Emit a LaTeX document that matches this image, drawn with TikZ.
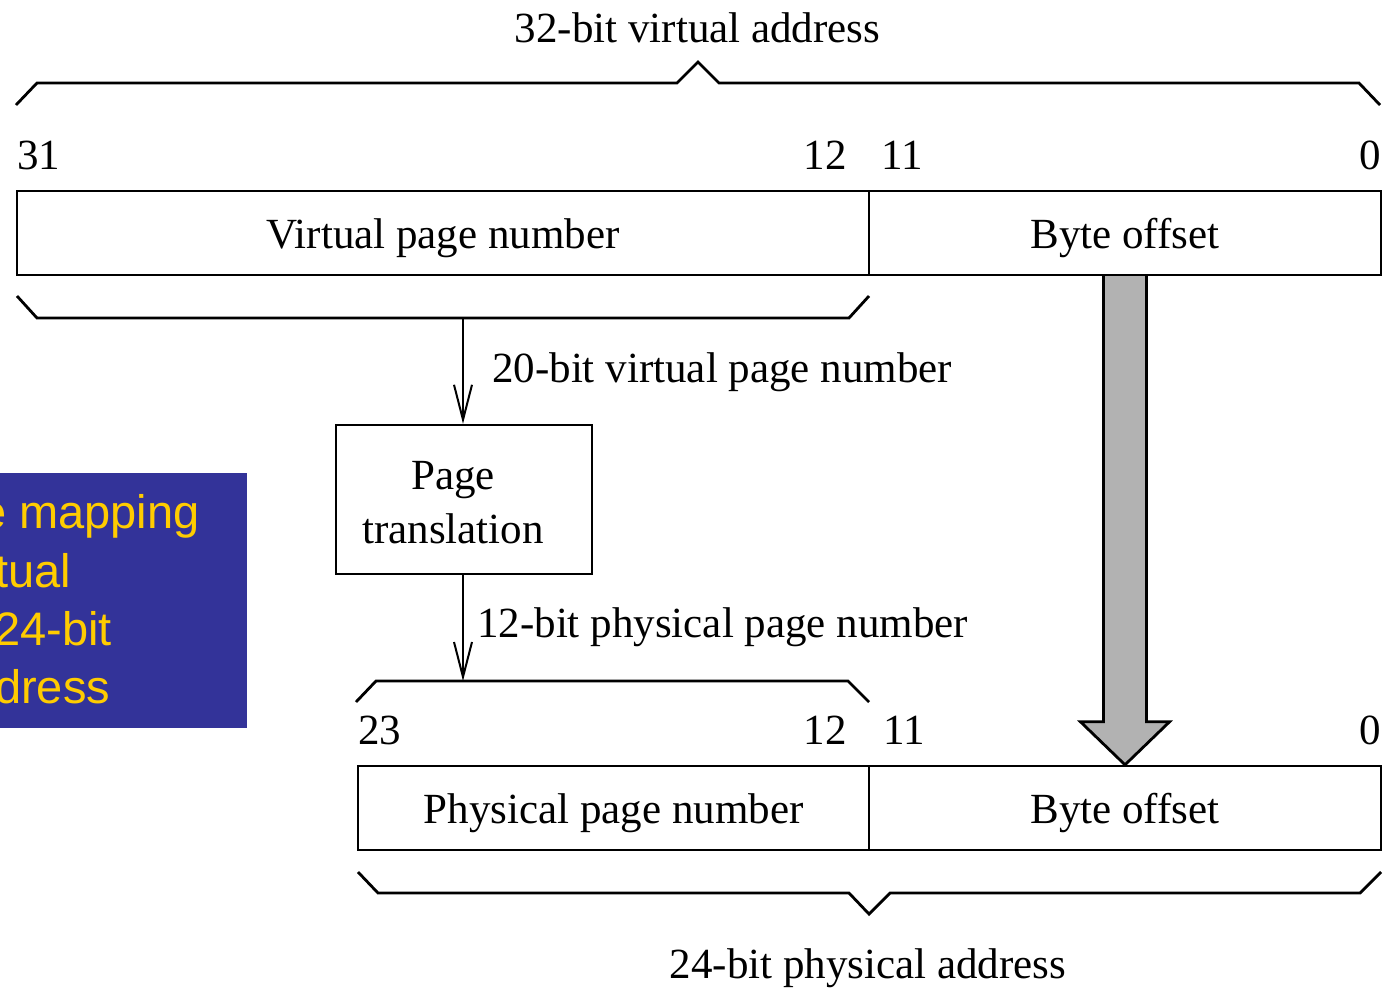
\documentclass[tikz,border=0pt]{standalone}
\usepackage{fontspec}
\setmainfont{Liberation Serif}
\newfontfamily\panelfont{Liberation Sans}
\usetikzlibrary{arrows.meta,calc}
\definecolor{panelblue}{RGB}{51,51,153}
\definecolor{panelyellow}{RGB}{255,204,0}
\definecolor{fatgray}{RGB}{178,178,178}

\begin{document}
\begin{tikzpicture}[x=1pt,y=-1pt,
  lbl/.style={inner sep=0pt,font=\fontsize{43}{50}\selectfont},
  field/.style={draw,line width=2.4pt,inner sep=0pt,minimum height=84pt,
    text height=30pt,text depth=0pt,font=\fontsize{43}{50}\selectfont},
  brace/.style={line width=2.8pt,line join=miter},
  link/.style={line width=2pt,-{Straight Barb[length=35pt,width=18pt,line width=2pt]}},
  fatarrow/.style={draw,fill=fatgray,line width=2.8pt,line join=miter},
  paneltext/.style={inner sep=0pt,text=panelyellow,font=\panelfont\fontsize{47}{58}\selectfont}]

\useasboundingbox (0,0) rectangle (1383,989);

% side panel
\node[fill=panelblue,inner sep=0pt,minimum width=247pt,minimum height=255pt,anchor=north west] (panel) at (0,473) {};
\node[paneltext,anchor=base west] (pl1) at (-20,528) {e mapping};
\node[paneltext,anchor=base west] (pl2) at (-5,587) {tual};
\node[paneltext,anchor=base west] (pl3) at (-6,645) {24-bit};
\node[paneltext,anchor=base west] (pl4) at (-5,703) {dress};

% virtual address
\node[lbl,anchor=base] (vtitle) at (697.5,42) {32-bit virtual address};
\draw[brace] (16,105) -- (37,83) -- (677,83) -- (698,62) -- (719,83) -- (1359,83) -- (1380,105);
\node[lbl,anchor=base west] (v31) at (17,169) {31};
\node[lbl,anchor=base east] (v12) at (847,169) {12};
\node[lbl,anchor=base west] (v11) at (881,169) {11};
\node[lbl,anchor=base east] (v0) at (1381,169) {0};
\node[field,minimum width=852pt] (vpn) at (443,233) {Virtual page number};
\node[field,minimum width=512pt] (vboff) at (1125,233) {Byte offset};
\draw[brace] (17,296) -- (37,318) -- (849,318) -- (869,296);
\coordinate (vbr) at (463,318);

% page translation
\node[draw,line width=2.4pt,inner sep=0pt,minimum width=256pt,minimum height=149pt] (pt) at (464,499.5) {};
\node[lbl,anchor=base] (ptl1) at (453,489) {Page};
\node[lbl,anchor=base] (ptl2) at (453,543) {translation};
\draw[link] (vbr) -- (vbr |- pt.north);
\node[lbl,anchor=base west] (vpnlbl) at (492,382) {20-bit virtual page number};

% physical address
\draw[brace] (356,702) -- (376,681) -- (848,681) -- (869,702);
\coordinate (pbr) at (463,681);
\draw[link] (pbr |- pt.south) -- (pbr);
\node[lbl,anchor=base west] (ppnlbl) at (477,637) {12-bit physical page number};
\node[lbl,anchor=base west] (p23) at (358,744) {23};
\node[lbl,anchor=base east] (p12) at (847,744) {12};
\node[lbl,anchor=base west] (p11) at (883,744) {11};
\node[lbl,anchor=base east] (p0) at (1381,744) {0};
\node[field,minimum width=511pt] (ppn) at (613.5,808) {Physical page number};
\node[field,minimum width=512pt] (pboff) at (1125,808) {Byte offset};
\draw[brace] (358,872) -- (378,893) -- (849,893) -- (869,914) -- (890,893) -- (1360,893) -- (1381,872);
\node[lbl,anchor=base] (ptitle) at (868,978) {24-bit physical address};

% offset copied straight across
\draw[fatarrow] ([xshift=-21.5pt]vboff.south)
  -- ([xshift=-21.5pt,yshift=43pt]pboff.north)
  -- ([xshift=-44.5pt,yshift=43pt]pboff.north)
  -- (pboff.north)
  -- ([xshift=44.5pt,yshift=43pt]pboff.north)
  -- ([xshift=21.5pt,yshift=43pt]pboff.north)
  -- ([xshift=21.5pt]vboff.south);
\end{tikzpicture}
\end{document}
